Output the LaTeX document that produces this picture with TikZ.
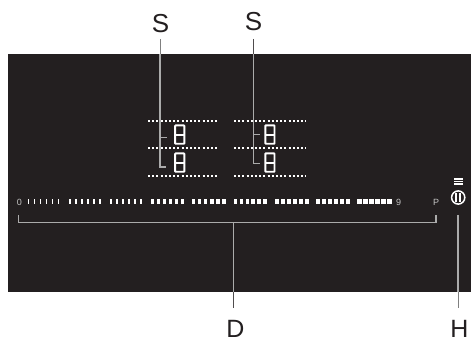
\documentclass[tikz,border=0pt]{standalone}
\usepackage{fontspec}
\setmainfont{Liberation Sans}
\definecolor{panel}{HTML}{231F20}
\definecolor{lead}{HTML}{ABABAB}
\tikzset{
  x=1pt,y=-1pt,
  lbl/.style={font=\fontsize{26}{26}\selectfont,text=panel,inner sep=0pt,anchor=center},
  lblb/.style={font=\fontsize{25}{25}\selectfont,text=panel,inner sep=0pt,anchor=center},
  tiny/.style={font=\fontsize{9}{9}\selectfont,text=lead!70!white,inner sep=0pt,anchor=center},
  leader/.style={draw=lead,line width=1.1pt},
  outer/.style={draw=panel!80!white,line width=1pt},
  dots/.style={draw=white,line width=2pt,dash pattern=on 2pt off 2.2pt},
  seg/.style={draw=white,line width=1.9pt,rounded corners=0.6pt}
}
\newcommand{\digitbox}[2]{%
  \draw[seg] (#1,#2) rectangle ++(9.2,18.4);
  \draw[seg] (#1,#2+9.2) -- ++(9.2,0);}
\begin{document}
\begin{tikzpicture}
\useasboundingbox (0,0) rectangle (471,339);
\fill[white] (0,0) rectangle (471,339);
\fill[panel] (8,54) rectangle (471,292);
% dotted rows
\foreach \y in {120.7,148.5,176.5}{
  \draw[dots] (148,\y) -- (216.5,\y);
  \draw[dots] (234,\y) -- (306,\y);
}
% digits
\digitbox{175.1}{125.4}
\digitbox{175.1}{153.4}
\digitbox{265.3}{125.4}
\digitbox{265.3}{153.4}
% slider bars
\foreach \g [count=\i from 0] in {28.3,69.7,111.1,152.5,193.9,235.3,276.7,318.1,359.5}{
  \foreach \k in {0,...,5}{
    \pgfmathsetmacro{\w}{min(5,1.2+(\i*6+\k)*0.075)}
    \fill[white] ({\g+\k*6-\w/2},199.4) rectangle ++(\w,4.8);
  }
}
\node[tiny] (zero) at (19.5,202) {0};
\node[tiny] (nine) at (398.5,202) {9};
\node[tiny] (pp) at (436,202) {P};
% pause icon
\fill[white] (454,178.3) rectangle (463.3,180);
\fill[white] (454,180.8) rectangle (463.3,182.5);
\fill[white] (454,183.3) rectangle (463.3,185);
\node[draw=white,line width=1.5pt,circle,minimum size=13.2pt,inner sep=0pt] (pwr) at (458.2,197.5) {};
\fill[white] (455.4,193.2) rectangle (457.4,201.8);
\fill[white] (459,193.2) rectangle (461,201.8);
% labels
\node[lbl] (s1) at (160.5,23.5) {S};
\node[lbl] (s2) at (253.5,21.5) {S};
\node[lblb] (d) at (235.5,328.5) {D};
\node[lblb] (h) at (459.5,328.5) {H};
% named ends
\coordinate (s1top) at (160,39.5);
\coordinate (s1pan) at (160,54);
\coordinate (s1bot) at (160,167);
\coordinate (s2top) at (253.7,39);
\coordinate (s2pan) at (253.7,54);
\coordinate (s2bot) at (253.7,163.7);
\coordinate (dpan) at (233.7,292);
\coordinate (dend) at (233.7,308);
\coordinate (hpan) at (458,292);
\coordinate (hend) at (458,308);
% leaders
\draw[outer,draw=gray] (s1top) -- (s1pan);
\draw[leader] (s1pan) -- (s1bot) -- (166,167);
\draw[leader] (160,137.3) -- (167,137.3);
\draw[outer] (s2top) -- (s2pan);
\draw[leader] (s2pan) -- (s2bot) -- (259.5,163.7);
\draw[leader] (253.7,134.3) -- (259.8,134.3);
\draw[leader] (18.5,215) -- (18.5,222.7) -- (436,222.7) -- (436,215);
\draw[leader] (233.7,222.7) -- (dpan);
\draw[outer] (dpan) -- (dend);
\draw[leader] (458,215) -- (hpan);
\draw[outer,draw=gray] (hpan) -- (hend);
\end{tikzpicture}
\end{document}
